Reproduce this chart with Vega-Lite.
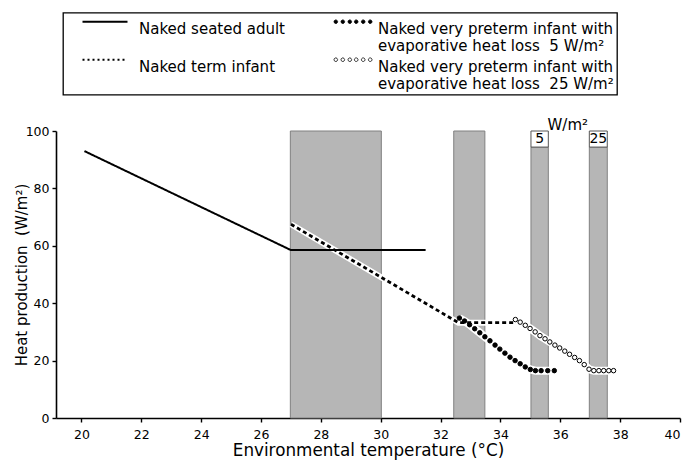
{
  "$schema": "https://vega.github.io/schema/vega-lite/v6.json",
  "width": 624,
  "height": 287,
  "autosize": {"type": "none"},
  "padding": {"left": 56, "top": 131, "right": 10, "bottom": 43},
  "background": "white",
  "config": {
    "view": {"stroke": null},
    "font": "DejaVu Sans",
    "axis": {
      "grid": false,
      "domainColor": "black",
      "domainWidth": 1.6,
      "tickColor": "black",
      "tickWidth": 1.4,
      "tickSize": 4,
      "labelFont": "DejaVu Sans",
      "labelFontSize": 12.5,
      "labelColor": "black",
      "titleFont": "DejaVu Sans",
      "titleFontSize": 16,
      "titleFontWeight": "normal",
      "titleColor": "black"
    }
  },
  "datasets": {
    "bars": [
      {"x0": 26.98, "x1": 30.02, "y0": 0, "y1": 100},
      {"x0": 32.44, "x1": 33.48, "y0": 0, "y1": 100},
      {"x0": 35.02, "x1": 35.6, "y0": 0, "y1": 94.4},
      {"x0": 36.97, "x1": 37.57, "y0": 0, "y1": 94.4}
    ],
    "boxes": [
      {"x0": 35.02, "x1": 35.6, "y0": 94.4, "y1": 100, "xc": 35.31, "yc": 97.2, "lab": "5"},
      {"x0": 36.97, "x1": 37.57, "y0": 94.4, "y1": 100, "xc": 37.27, "yc": 97.2, "lab": "25"}
    ],
    "unit": [
      {"xc": 36.25, "yc": 102.2, "lab": "W/m²"}
    ],
    "lines": [
      {"series": "adult", "t": 20.1, "hp": 93},
      {"series": "adult", "t": 27.0, "hp": 58.5},
      {"series": "adult", "t": 31.5, "hp": 58.5},
      {"series": "term", "t": 27.0, "hp": 67.5},
      {"series": "term", "t": 32.6, "hp": 33.2},
      {"series": "term", "t": 34.45, "hp": 33.2}
    ],
    "points": [
      {"series": "p5", "t": 32.63, "hp": 34.8},
      {"series": "p5", "t": 32.80, "hp": 33.8},
      {"series": "p5", "t": 32.97, "hp": 32.5},
      {"series": "p5", "t": 33.14, "hp": 31.1},
      {"series": "p5", "t": 33.31, "hp": 29.7},
      {"series": "p5", "t": 33.48, "hp": 28.3},
      {"series": "p5", "t": 33.65, "hp": 26.9},
      {"series": "p5", "t": 33.82, "hp": 25.4},
      {"series": "p5", "t": 33.98, "hp": 24.0},
      {"series": "p5", "t": 34.15, "hp": 22.6},
      {"series": "p5", "t": 34.32, "hp": 21.2},
      {"series": "p5", "t": 34.49, "hp": 20.0},
      {"series": "p5", "t": 34.66, "hp": 18.9},
      {"series": "p5", "t": 34.83, "hp": 17.8},
      {"series": "p5", "t": 35.00, "hp": 16.9},
      {"series": "p5", "t": 35.17, "hp": 16.5},
      {"series": "p5", "t": 35.36, "hp": 16.5},
      {"series": "p5", "t": 35.58, "hp": 16.5},
      {"series": "p5", "t": 35.80, "hp": 16.5},
      {"series": "p25", "t": 34.50, "hp": 34.3},
      {"series": "p25", "t": 34.66, "hp": 33.4},
      {"series": "p25", "t": 34.83, "hp": 32.3},
      {"series": "p25", "t": 34.99, "hp": 31.2},
      {"series": "p25", "t": 35.16, "hp": 30.0},
      {"series": "p25", "t": 35.32, "hp": 28.7},
      {"series": "p25", "t": 35.49, "hp": 27.6},
      {"series": "p25", "t": 35.65, "hp": 26.5},
      {"series": "p25", "t": 35.82, "hp": 25.4},
      {"series": "p25", "t": 35.98, "hp": 24.4},
      {"series": "p25", "t": 36.15, "hp": 23.3},
      {"series": "p25", "t": 36.31, "hp": 22.2},
      {"series": "p25", "t": 36.48, "hp": 21.1},
      {"series": "p25", "t": 36.64, "hp": 20.0},
      {"series": "p25", "t": 36.80, "hp": 18.6},
      {"series": "p25", "t": 36.96, "hp": 17.0},
      {"series": "p25", "t": 37.12, "hp": 16.5},
      {"series": "p25", "t": 37.29, "hp": 16.5},
      {"series": "p25", "t": 37.45, "hp": 16.5},
      {"series": "p25", "t": 37.62, "hp": 16.5},
      {"series": "p25", "t": 37.78, "hp": 16.5}
    ]
  },
  "encoding": {
    "x": {
      "type": "quantitative",
      "scale": {"domain": [19.15, 40], "nice": false, "zero": false},
      "axis": {
        "title": "Environmental temperature (°C)",
        "values": [20, 22, 24, 26, 28, 30, 32, 34, 36, 38, 40],
        "labelPadding": 6,
        "titlePadding": 2,
        "titleFontSize": 16.8
      }
    },
    "y": {
      "type": "quantitative",
      "scale": {"domain": [0, 100], "nice": false},
      "axis": {
        "title": "Heat production\u00a0\u00a0(W/m²)",
        "values": [0, 20, 40, 60, 80, 100],
        "labelPadding": 3,
        "titlePadding": -4,
        "titleFontSize": 15
      }
    }
  },
  "layer": [
    {
      "data": {"name": "bars"},
      "mark": {"type": "rect", "fill": "#b6b6b6", "stroke": "#808080", "strokeWidth": 1},
      "encoding": {
        "x": {"field": "x0", "type": "quantitative"},
        "x2": {"field": "x1"},
        "y": {"field": "y0", "type": "quantitative"},
        "y2": {"field": "y1"}
      }
    },
    {
      "data": {"name": "boxes"},
      "mark": {"type": "rect", "fill": "white", "stroke": "#555555", "strokeWidth": 1},
      "encoding": {
        "x": {"field": "x0", "type": "quantitative"},
        "x2": {"field": "x1"},
        "y": {"field": "y0", "type": "quantitative"},
        "y2": {"field": "y1"}
      }
    },
    {
      "data": {"name": "boxes"},
      "mark": {"type": "text", "font": "DejaVu Sans", "fontSize": 14, "color": "black", "align": "center", "baseline": "middle"},
      "encoding": {
        "x": {"field": "xc", "type": "quantitative"},
        "y": {"field": "yc", "type": "quantitative"},
        "text": {"field": "lab"}
      }
    },
    {
      "data": {"name": "unit"},
      "mark": {"type": "text", "font": "DejaVu Sans", "fontSize": 15, "color": "black", "align": "center", "baseline": "middle"},
      "encoding": {
        "x": {"field": "xc", "type": "quantitative"},
        "y": {"field": "yc", "type": "quantitative"},
        "text": {"field": "lab"}
      }
    },
    {
      "data": {"name": "lines"},
      "transform": [{"filter": "datum.series == 'term'"}],
      "mark": {"type": "line", "color": "white", "strokeWidth": 6},
      "encoding": {
        "x": {"field": "t", "type": "quantitative"},
        "y": {"field": "hp", "type": "quantitative"}
      }
    },
    {
      "data": {"name": "points"},
      "mark": {"type": "line", "color": "white", "strokeWidth": 8},
      "encoding": {
        "x": {"field": "t", "type": "quantitative"},
        "y": {"field": "hp", "type": "quantitative"},
        "detail": {"field": "series"}
      }
    },
    {
      "data": {"name": "lines"},
      "mark": {"type": "line"},
      "encoding": {
        "x": {"field": "t", "type": "quantitative"},
        "y": {"field": "hp", "type": "quantitative"},
        "color": {
          "field": "series",
          "type": "nominal",
          "scale": {"domain": ["adult", "term", "p5", "p25"], "range": ["black", "black", "black", "black"]},
          "legend": {
            "orient": "none",
            "legendX": 7,
            "legendY": -118.3,
            "columns": 2,
            "title": null,
            "strokeColor": "black",
            "fillColor": "white",
            "padding": 3,
            "symbolSize": 1764,
            "columnPadding": 33,
            "rowPadding": -7.5,
            "labelFont": "DejaVu Sans",
            "labelFontSize": 15,
            "labelColor": "black",
            "labelLimit": 500,
            "labelExpr": "datum.value == 'adult' ? ['Naked seated adult', ''] : datum.value == 'term' ? ['Naked term infant', ''] : datum.value == 'p5' ? ['Naked very preterm infant with', 'evaporative heat loss\u00a0\u00a05\u00a0W/m²'] : ['Naked very preterm infant with', 'evaporative heat loss\u00a0\u00a025\u00a0W/m²']",
            "encode": {
              "legend": {"update": {"strokeWidth": {"value": 1.3}}},
              "labels": {
                "update": {
                  "lineHeight": {"value": 16.5},
                  "baseline": {"value": "top"},
                  "x": {"signal": "datum.value == 'p5' || datum.value == 'p25' ? 60 : 73"},
                  "y": {"value": 6.5}
                }
              },
              "symbols": {
                "update": {
                  "shape": {"signal": "datum.value == 'p5' || datum.value == 'p25' ? 'M-0.95,0A0.09,0.09 0 1,0 -0.77,0A0.09,0.09 0 1,0 -0.95,0ZM-0.6,0A0.09,0.09 0 1,0 -0.42,0A0.09,0.09 0 1,0 -0.6,0ZM-0.25,0A0.09,0.09 0 1,0 -0.07,0A0.09,0.09 0 1,0 -0.25,0ZM0.07,0A0.09,0.09 0 1,0 0.25,0A0.09,0.09 0 1,0 0.07,0ZM0.42,0A0.09,0.09 0 1,0 0.6,0A0.09,0.09 0 1,0 0.42,0ZM0.77,0A0.09,0.09 0 1,0 0.95,0A0.09,0.09 0 1,0 0.77,0Z' : 'M-1,0L1,0'"},
                  "size": {"signal": "datum.value == 'p5' || datum.value == 'p25' ? 1600 : 2025"},
                  "x": {"signal": "datum.value == 'p5' || datum.value == 'p25' ? 35 : 39"},
                  "y": {"value": 6},
                  "fill": {"signal": "datum.value == 'p5' ? 'black' : datum.value == 'p25' ? 'white' : 'transparent'"},
                  "stroke": {"signal": "datum.value == 'p25' ? '#777777' : 'black'"},
                  "strokeWidth": {"signal": "datum.value == 'adult' ? 2 : datum.value == 'term' ? 2 : 0.8"},
                  "strokeDash": {"signal": "datum.value == 'term' ? [2, 3] : [1, 0]"},
                  "opacity": {"value": 1},
                  "fillOpacity": {"value": 1},
                  "strokeOpacity": {"value": 1}
                }
              }
            }
          }
        },
        "strokeDash": {
          "field": "series",
          "type": "nominal",
          "scale": {"domain": ["adult", "term"], "range": [[1, 0], [4, 3]]},
          "legend": null
        },
        "strokeWidth": {
          "field": "series",
          "type": "nominal",
          "scale": {"domain": ["adult", "term"], "range": [2, 2.8]},
          "legend": null
        }
      }
    },
    {
      "data": {"name": "points"},
      "mark": {"type": "point", "shape": "circle", "filled": false, "size": 20, "strokeWidth": 1, "opacity": 1},
      "encoding": {
        "x": {"field": "t", "type": "quantitative"},
        "y": {"field": "hp", "type": "quantitative"},
        "color": {"field": "series", "type": "nominal"},
        "fill": {
          "field": "series",
          "type": "nominal",
          "scale": {"domain": ["p5", "p25"], "range": ["black", "white"]},
          "legend": null
        }
      }
    }
  ]
}
